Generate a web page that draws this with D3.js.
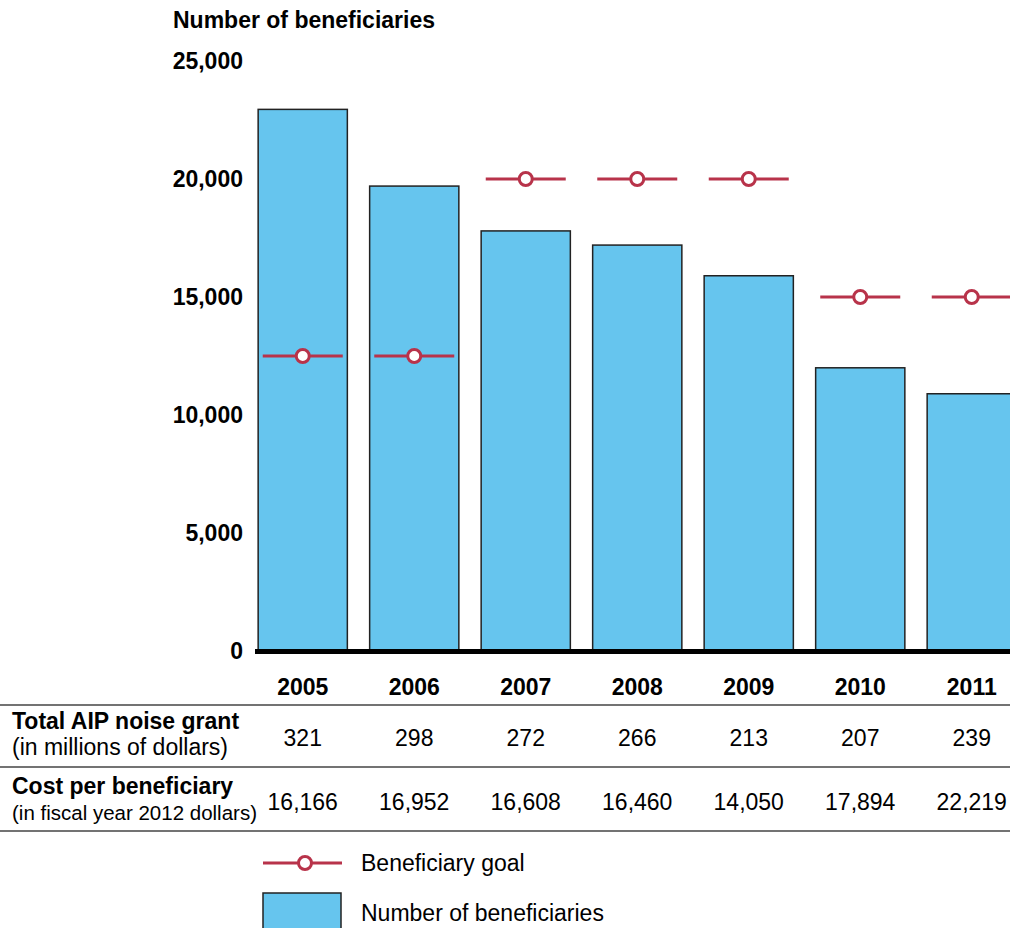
<!DOCTYPE html>
<html>
<head>
<meta charset="utf-8">
<script src="https://cdn.jsdelivr.net/npm/d3@7/dist/d3.min.js"></script>
<style>
  body { margin: 0; background: #fff; }
  svg { display: block; font-family: "Liberation Sans", Arial, sans-serif; }
</style>
</head>
<body>
<svg id="chart" width="1010" height="928"></svg>
<script>
// données
var years = ["2005", "2006", "2007", "2008", "2009", "2010", "2011"];
var beneficiaries = [22950, 19700, 17800, 17200, 15900, 12000, 10900];
var goals = [12500, 12500, 20000, 20000, 20000, 15000, 15000];
var grants = ["321", "298", "272", "266", "213", "207", "239"];
var costs = ["16,166", "16,952", "16,608", "16,460", "14,050", "17,894", "22,219"];
var yTicks = [0, 5000, 10000, 15000, 20000, 25000];

var svg = d3.select("#chart");
var blue = "#66c5ee", red = "#b8334a";

var xScale = d3.scaleBand().domain(years).range([247, 1027.5]).paddingInner(0.2).paddingOuter(0.1);
var yScale = d3.scaleLinear().domain([0, 25000]).range([651, 61]);

// titre
svg.append("text").attr("x", 173).attr("y", 28)
  .style("font-size", "23px").style("font-weight", "bold")
  .text("Number of beneficiaries");

// axe des ordonnées (libellés seulement)
var yAxis = svg.append("g").attr("transform", "translate(243,0)")
  .call(d3.axisLeft(yScale).tickValues(yTicks).tickSize(0).tickPadding(0).tickFormat(d3.format(",")));
yAxis.select(".domain").remove();
yAxis.selectAll("text").style("font-size", "23px").style("font-weight", "bold")
  .style("font-family", "Liberation Sans, Arial, sans-serif").attr("fill", "#000");

// barres
svg.selectAll("rect.bar").data(years).enter().append("rect")
  .attr("class", "bar")
  .attr("x", d => xScale(d))
  .attr("y", (d, i) => yScale(beneficiaries[i]))
  .attr("width", xScale.bandwidth())
  .attr("height", (d, i) => yScale(0) - yScale(beneficiaries[i]))
  .attr("fill", blue).attr("stroke", "#222").attr("stroke-width", 1.5);

// ligne de base
svg.append("line").attr("x1", 255).attr("x2", 1010)
  .attr("y1", yScale(0) + 0.5).attr("y2", yScale(0) + 0.5)
  .attr("stroke", "#000").attr("stroke-width", 5);

// objectifs
var goalG = svg.selectAll("g.goal").data(years).enter().append("g")
  .attr("class", "goal")
  .attr("transform", (d, i) => `translate(${xScale(d) + xScale.bandwidth() / 2}, ${yScale(goals[i])})`);
goalG.append("line").attr("x1", -40).attr("x2", 40)
  .attr("stroke", red).attr("stroke-width", 3);
goalG.append("circle").attr("r", 6.5)
  .attr("fill", "#fff").attr("stroke", red).attr("stroke-width", 3);

// années
svg.selectAll("text.year").data(years).enter().append("text")
  .attr("class", "year")
  .attr("x", d => xScale(d) + xScale.bandwidth() / 2)
  .attr("y", 695)
  .attr("text-anchor", "middle")
  .style("font-size", "23px").style("font-weight", "bold")
  .text(d => d);

// tableau
[705, 767, 831].forEach(function (y) {
  svg.append("line").attr("x1", 0).attr("x2", 1010).attr("y1", y).attr("y2", y)
    .attr("stroke", "#444").attr("stroke-width", 1.5);
});

function rowLabel(y1, t1, y2, t2, size2) {
  svg.append("text").attr("x", 12).attr("y", y1)
    .style("font-size", "23px").style("font-weight", "bold").text(t1);
  svg.append("text").attr("x", 12).attr("y", y2)
    .style("font-size", size2 + "px").text(t2);
}
rowLabel(729, "Total AIP noise grant", 755, "(in millions of dollars)", 23);
rowLabel(794, "Cost per beneficiary", 820, "(in fiscal year 2012 dollars)", 20.5);

function rowValues(vals, y) {
  svg.selectAll(null).data(vals).enter().append("text")
    .attr("x", (d, i) => xScale(years[i]) + xScale.bandwidth() / 2)
    .attr("y", y)
    .attr("text-anchor", "middle")
    .style("font-size", "23px")
    .text(d => d);
}
rowValues(grants, 746);
rowValues(costs, 810);

// légende
var leg = svg.append("g");
leg.append("line").attr("x1", 263).attr("x2", 342).attr("y1", 863).attr("y2", 863)
  .attr("stroke", red).attr("stroke-width", 3);
leg.append("circle").attr("cx", 305).attr("cy", 863).attr("r", 6.5)
  .attr("fill", "#fff").attr("stroke", red).attr("stroke-width", 3);
leg.append("text").attr("x", 361).attr("y", 871).style("font-size", "23px").text("Beneficiary goal");
leg.append("rect").attr("x", 263).attr("y", 893).attr("width", 78).attr("height", 40)
  .attr("fill", blue).attr("stroke", "#222").attr("stroke-width", 1.5);
leg.append("text").attr("x", 361).attr("y", 921).style("font-size", "23px").text("Number of beneficiaries");
</script>
</body>
</html>
